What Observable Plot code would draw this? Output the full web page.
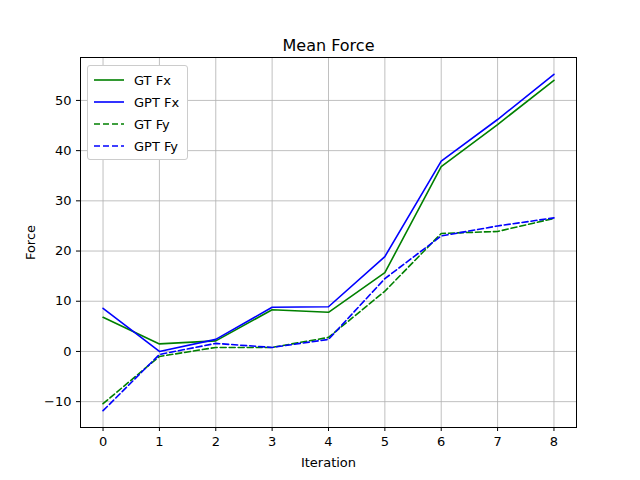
<!DOCTYPE html>
<html><head><meta charset="utf-8">
<script src="https://cdn.jsdelivr.net/npm/d3@7"></script>
<script src="https://cdn.jsdelivr.net/npm/@observablehq/plot@0.6"></script>
<style>
body{margin:0;background:#fff;font-family:"DejaVu Sans",sans-serif}
#wrap{position:relative;width:640px;height:480px}
#legend{position:absolute;left:87px;top:65px;background:#fff;border:1px solid #ccc;border-radius:3px;padding:3px 8px 2px 6px;font-size:13px}
#legend div{display:flex;align-items:center;height:22px}
#legend svg{margin-right:10px}
</style></head>
<body><div id="wrap"><div id="legend"></div></div>
<script>
const iterations = [0,1,2,3,4,5,6,7,8];
const gtFx  = [6.8, 1.5, 2.1, 8.3, 7.8, 15.7, 36.8, 45.2, 54.0];
const gptFx = [8.6, 0.0, 2.4, 8.8, 8.9, 18.9, 37.9, 46.2, 55.2];
const gtFy  = [-10.4, -1.0, 0.8, 0.8, 2.8, 12.0, 23.5, 23.9, 26.5];
const gptFy = [-11.8, -0.6, 1.6, 0.8, 2.4, 14.5, 23.0, 25.0, 26.6];

const series = [
  {name:"GT Fx", vals:gtFx, color:"green", dash:null},
  {name:"GPT Fx", vals:gptFx, color:"blue", dash:null},
  {name:"GT Fy", vals:gtFy, color:"green", dash:"6,3"},
  {name:"GPT Fy", vals:gptFy, color:"blue", dash:"6,3"}
];

const marks = [
  Plot.gridX(iterations, {stroke:"#b0b0b0", strokeOpacity:1, strokeWidth:0.8}),
  Plot.gridY(d3.range(-10, 51, 10), {stroke:"#b0b0b0", strokeOpacity:1, strokeWidth:0.8}),
  Plot.frame({stroke:"black"}),
  Plot.text(["Mean Force"], {frameAnchor:"top", dy:-18, fontSize:16, fill:"black"})
];
for (const s of series) {
  marks.push(Plot.line(iterations.map((x,i)=>({x, y:s.vals[i]})), {
    x:"x", y:"y", stroke:s.color, strokeWidth:1.6, strokeDasharray:s.dash
  }));
}

const chart = Plot.plot({
  width:640, height:480,
  marginLeft:80, marginRight:64, marginTop:57, marginBottom:53,
  style:{fontSize:"13px", fontFamily:"DejaVu Sans, sans-serif", color:"black"},
  x:{domain:[-0.4,8.4], ticks:iterations, tickFormat:d3.format("d"), label:"Iteration", labelAnchor:"center", labelArrow:"none", labelOffset:39, tickSize:4},
  y:{domain:[-15.15,58.55], ticks:d3.range(-10,51,10), tickFormat:d=>d<0?"\u2212"+(-d):d, label:"Force", labelAnchor:"center", labelArrow:"none", labelOffset:55, tickSize:4},
  marks
});
document.getElementById("wrap").prepend(chart);

const leg = document.getElementById("legend");
for (const s of series) {
  const row = document.createElement("div");
  row.innerHTML = `<svg width="30" height="10"><line x1="0" x2="30" y1="5" y2="5" stroke="${s.color}" stroke-width="1.6" ${s.dash?`stroke-dasharray="${s.dash}"`:""}/></svg>${s.name}`;
  leg.appendChild(row);
}
</script></body></html>
